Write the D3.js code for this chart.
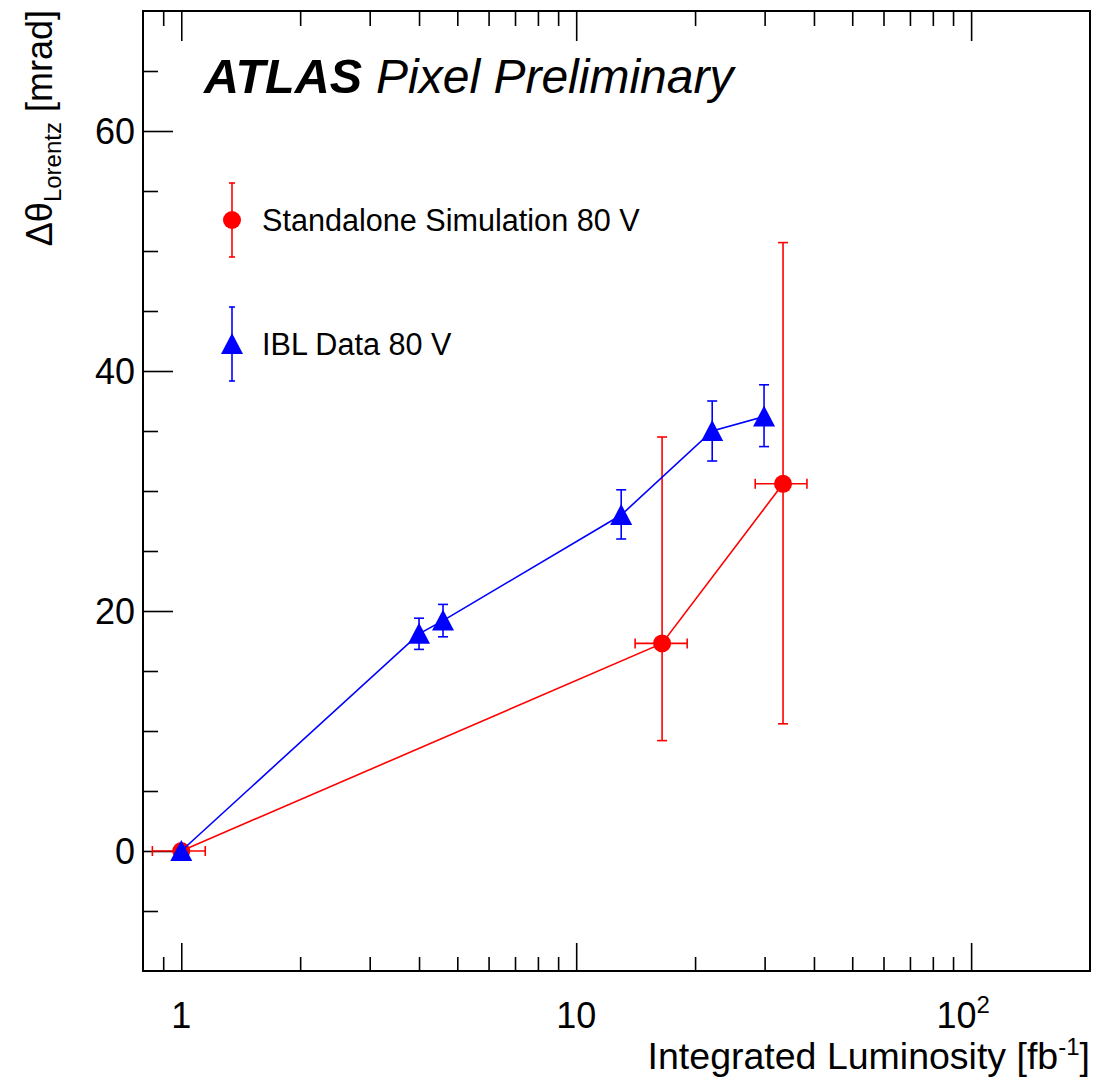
<!DOCTYPE html>
<html>
<head>
<meta charset="utf-8">
<script src="https://cdn.jsdelivr.net/npm/d3@7"></script>
<style>
  body { margin: 0; background: #fff; }
  svg { display: block; font-family: "Liberation Sans", Arial, Helvetica, sans-serif; }
</style>
</head>
<body>
<svg id="chart" width="1096" height="1081"></svg>
<script>
// Standalone simulation (red circles)
const simLumi = [1, 16.5, 33.4];
const simTheta = [0, 17.3, 30.6];
const simLumiLo = [0.155, 2.4, 5.0];
const simLumiHi = [0.15, 2.6, 5.0];
const simThetaLo = [0, 8.1, 20.0];
const simThetaHi = [0, 17.2, 20.1];

// IBL data (blue triangles)
const iblLumi = [1, 4.0, 4.6, 13.0, 22.1, 29.9];
const iblTheta = [0, 18.1, 19.2, 28.0, 35.0, 36.2];
const iblThetaLo = [0, 1.3, 1.35, 2.0, 2.5, 2.5];
const iblThetaHi = [0, 1.3, 1.35, 2.1, 2.5, 2.65];

// ticks
const xMajorTicks = [1, 10, 100];
const xMinorTicks = [0.9, 2, 3, 4, 5, 6, 7, 8, 9, 20, 30, 40, 50, 60, 70, 80, 90];
const yMajorTicks = [0, 20, 40, 60];
const yMinorTicks = [-5, 5, 10, 15, 25, 30, 35, 45, 50, 55, 65];

const legendLabels = ['Standalone Simulation 80 V', 'IBL Data 80 V'];

let svg = d3.select('#chart');
let margin = {top: 11, right: 6, bottom: 110, left: 143};
let width = 1096 - margin.left - margin.right;
let height = 1081 - margin.top - margin.bottom;

let x = d3.scaleLog().domain([0.8, 200]).range([0, width]);
let y = d3.scaleLinear().domain([-10, 70]).range([height, 0]);

let g = svg.append('g').attr('transform', `translate(${margin.left},${margin.top})`);

// axes: major + minor ticks, bottom/top/left (no ticks on the right in the original)
function ticks(axis, vals, size) {
    return axis.tickValues(vals).tickSize(size).tickFormat('');
}
let axes = g.append('g').attr('class', 'axes');
axes.append('g').attr('transform', `translate(0,${height})`).call(ticks(d3.axisTop(x), xMajorTicks, 28));
axes.append('g').attr('transform', `translate(0,${height})`).call(ticks(d3.axisTop(x), xMinorTicks, 14));
axes.append('g').call(ticks(d3.axisBottom(x), xMajorTicks, 30));
axes.append('g').call(ticks(d3.axisBottom(x), xMinorTicks, 15));
axes.append('g').call(ticks(d3.axisRight(y), yMajorTicks, 30));
axes.append('g').call(ticks(d3.axisRight(y), yMinorTicks, 15));
axes.selectAll('.domain').remove();
axes.selectAll('line').attr('stroke', '#000').attr('stroke-width', 1.6);

// tick labels
g.selectAll('.ylab').data(yMajorTicks).enter().append('text')
    .attr('x', -8).attr('y', d => y(d)).attr('dy', '0.36em')
    .attr('text-anchor', 'end').style('font-size', '36px')
    .text(d => d);

let xl = g.selectAll('.xlab').data(xMajorTicks).enter().append('text')
    .attr('x', d => x(d)).attr('y', height + 57)
    .attr('text-anchor', 'middle').style('font-size', '36px');
xl.filter(d => d < 100).text(d => d);
xl.filter(d => d >= 100).each(function(d) {
    let t = d3.select(this).attr('dx', -8);
    t.append('tspan').text('10');
    t.append('tspan').attr('dy', -15).style('font-size', '24px').text(Math.round(Math.log10(d)));
});

// axis titles
let xt = svg.append('text').attr('x', 1090).attr('y', 1069)
    .attr('text-anchor', 'end').style('font-size', '37.5px');
xt.append('tspan').text('Integrated Luminosity [fb');
xt.append('tspan').attr('dy', -14).style('font-size', '24px').text('-1');
xt.append('tspan').attr('dy', 14).text(']');

let yt = svg.append('text').attr('transform', 'rotate(-90)')
    .attr('x', -10).attr('y', 52)
    .attr('text-anchor', 'end').style('font-size', '36px');
yt.append('tspan').text('\u0394\u03b8');
yt.append('tspan').attr('dy', 9).style('font-size', '24px').text('Lorentz');
yt.append('tspan').attr('dy', -9).text(' [mrad]');

// ATLAS label
svg.append('text').attr('x', 204).attr('y', 93)
    .style('font-size', '48.5px').style('font-weight', 'bold').style('font-style', 'italic')
    .text('ATLAS');
svg.append('text').attr('x', 376).attr('y', 93)
    .style('font-size', '48px').style('font-style', 'italic')
    .text('Pixel Preliminary');

// markers
function circle(sel, color) {
    sel.append('circle').attr('r', 9).attr('fill', color);
}
function triangle(sel, color) {
    sel.append('path').attr('d', 'M0,-11L11,10L-11,10Z').attr('fill', color);
}

function drawSeries(data, color, marker) {
    let s = g.append('g');
    s.append('path').datum(data)
        .attr('fill', 'none').attr('stroke', color).attr('stroke-width', 1.6)
        .attr('d', d3.line().x(d => x(d.lx)).y(d => y(d.ty)));

    let err = s.selectAll('.err').data(data).enter().append('g')
        .attr('stroke', color).attr('stroke-width', 1.6);
    // vertical error bars
    let ve = err.filter(d => d.tlo > 0 || d.thi > 0);
    ve.append('line').attr('x1', d => x(d.lx)).attr('x2', d => x(d.lx))
        .attr('y1', d => y(d.ty - d.tlo)).attr('y2', d => y(d.ty + d.thi));
    ve.append('line').attr('x1', d => x(d.lx) - 5).attr('x2', d => x(d.lx) + 5)
        .attr('y1', d => y(d.ty - d.tlo)).attr('y2', d => y(d.ty - d.tlo));
    ve.append('line').attr('x1', d => x(d.lx) - 5).attr('x2', d => x(d.lx) + 5)
        .attr('y1', d => y(d.ty + d.thi)).attr('y2', d => y(d.ty + d.thi));
    // horizontal error bars
    let he = err.filter(d => d.llo > 0 || d.lhi > 0);
    he.append('line').attr('y1', d => y(d.ty)).attr('y2', d => y(d.ty))
        .attr('x1', d => x(d.lx - d.llo)).attr('x2', d => x(d.lx + d.lhi));
    he.append('line').attr('y1', d => y(d.ty) - 5).attr('y2', d => y(d.ty) + 5)
        .attr('x1', d => x(d.lx - d.llo)).attr('x2', d => x(d.lx - d.llo));
    he.append('line').attr('y1', d => y(d.ty) - 5).attr('y2', d => y(d.ty) + 5)
        .attr('x1', d => x(d.lx + d.lhi)).attr('x2', d => x(d.lx + d.lhi));

    s.selectAll('.mk').data(data).enter().append('g')
        .attr('transform', d => `translate(${x(d.lx)},${y(d.ty)})`)
        .call(sel => marker(sel, color));
}

let simData = simLumi.map((v, i) => ({lx: v, ty: simTheta[i], llo: simLumiLo[i], lhi: simLumiHi[i], tlo: simThetaLo[i], thi: simThetaHi[i]}));
let iblData = iblLumi.map((v, i) => ({lx: v, ty: iblTheta[i], llo: 0, lhi: 0, tlo: iblThetaLo[i], thi: iblThetaHi[i]}));

drawSeries(simData, '#ff0000', circle);
drawSeries(iblData, '#0000ff', triangle);

// frame
g.append('rect').attr('width', width).attr('height', height)
    .attr('fill', 'none').attr('stroke', '#000').attr('stroke-width', 2);

// legend
let legendItems = [
    {label: legendLabels[0], color: '#ff0000', marker: circle, cy: 220},
    {label: legendLabels[1], color: '#0000ff', marker: triangle, cy: 344}
];
let leg = svg.selectAll('.leg').data(legendItems).enter().append('g')
    .attr('transform', d => `translate(232,${d.cy})`);
leg.append('line').attr('y1', -37).attr('y2', 37)
    .attr('stroke', d => d.color).attr('stroke-width', 1.6);
leg.append('line').attr('x1', -3).attr('x2', 3).attr('y1', -37).attr('y2', -37)
    .attr('stroke', d => d.color).attr('stroke-width', 1.6);
leg.append('line').attr('x1', -3).attr('x2', 3).attr('y1', 37).attr('y2', 37)
    .attr('stroke', d => d.color).attr('stroke-width', 1.6);
leg.each(function(d) { d.marker(d3.select(this), d.color); });
leg.append('text').attr('x', 30).attr('y', 11)
    .style('font-size', '30.6px').text(d => d.label);
</script>
</body>
</html>
